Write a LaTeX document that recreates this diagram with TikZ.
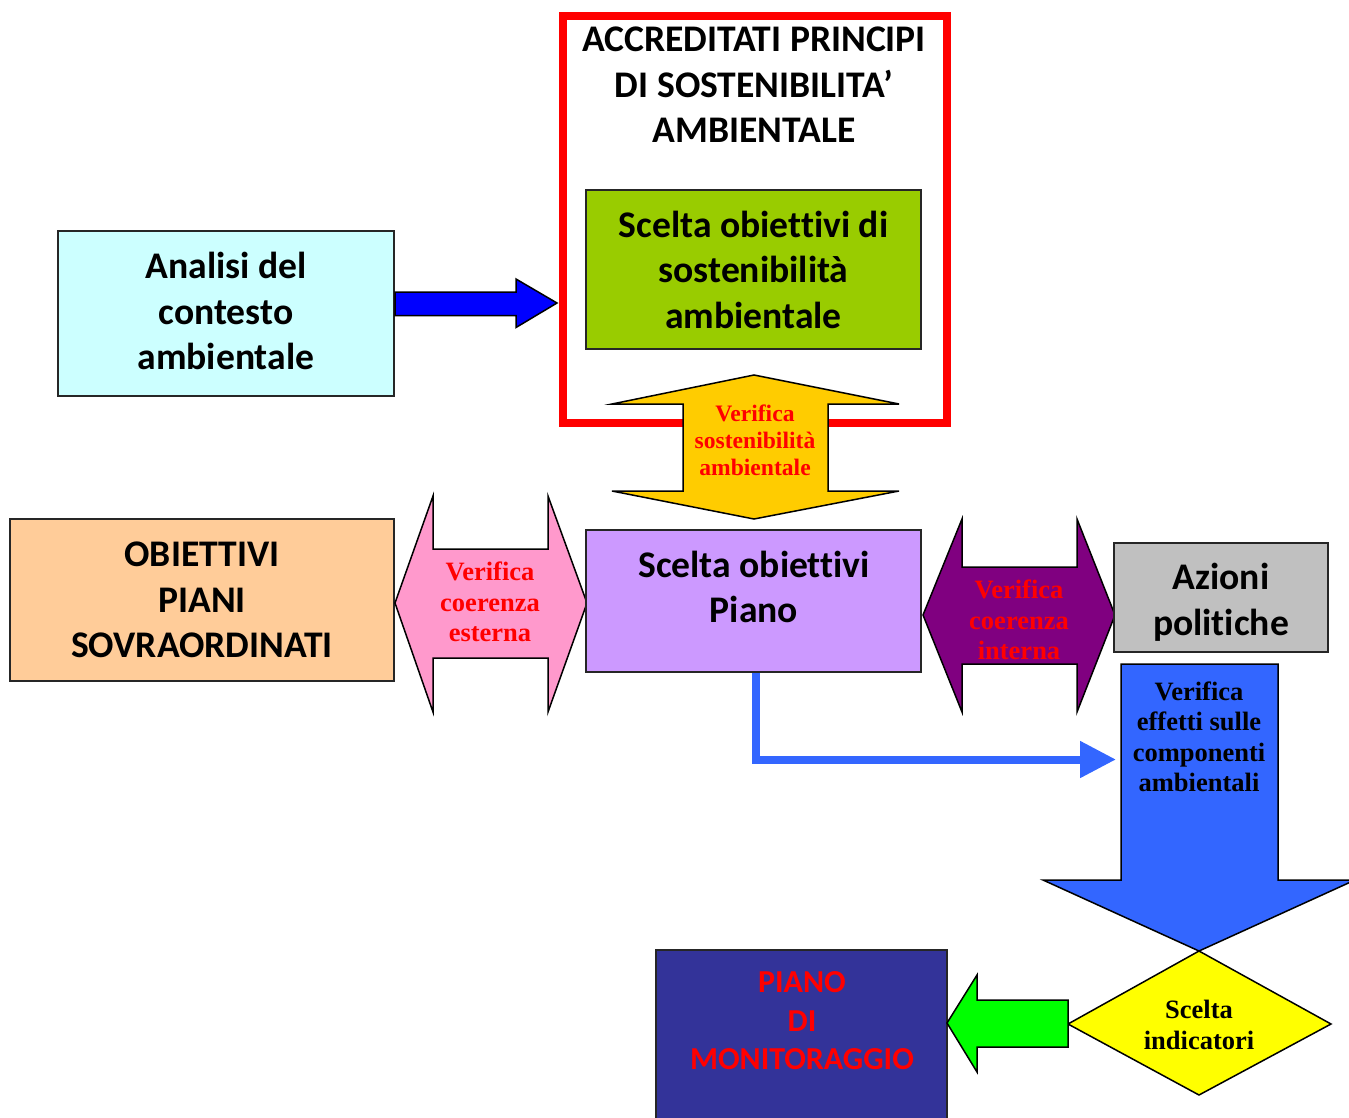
\documentclass[tikz,border=0pt]{standalone}
\usepackage{fontspec}
\setmainfont{Liberation Serif}
\newfontfamily\calfont[Ligatures=NoCommon]{Carlito}
\usetikzlibrary{arrows.meta,calc}
\definecolor{cyanbg}{HTML}{CCFFFF}
\definecolor{greenbg}{HTML}{99CC00}
\definecolor{orangebg}{HTML}{FFCC99}
\definecolor{lilacbg}{HTML}{CC99FF}
\definecolor{greybg}{HTML}{C0C0C0}
\definecolor{pinkbg}{HTML}{FF99CC}
\definecolor{purplebg}{HTML}{800080}
\definecolor{goldbg}{HTML}{FFCC00}
\definecolor{skyblue}{HTML}{3366FF}
\definecolor{navybg}{HTML}{333399}
\definecolor{limebg}{HTML}{00FF00}
\definecolor{yellowbg}{HTML}{FFFF00}
\definecolor{purebluebg}{HTML}{0000FF}
\newcommand\calbig{\calfont\bfseries\fontsize{37.6}{45.5}\selectfont}
\newcommand\calmid{\calfont\bfseries\fontsize{32}{38.5}\selectfont}
\newcommand\serbig{\bfseries\fontsize{26.5}{30.5}\selectfont}
\newcommand\sersmall{\bfseries\fontsize{23.6}{27}\selectfont}
\begin{document}
\begin{tikzpicture}[x=1pt,y=-1pt,
  box/.style={draw=black!85, line width=1.2pt, inner sep=0pt, align=center, font=\calbig},
  blk/.style={draw=black, line width=1.5pt, line join=miter},
  ser/.style={align=center, font=\serbig, inner sep=0pt},
  txt/.style={align=center, font=\calbig, inner sep=0pt}]
\useasboundingbox (0,0) rectangle (1349,1117);

% analisi
\node[box, fill=cyanbg, minimum width=336pt, minimum height=165pt] (analisi) at (226,313.5) {};
\node[txt] (analisitxt) at (226,311) {Analisi del\\contesto\\ambientale};

% red frame
\node[draw=red, line width=7.5pt, inner sep=0pt, minimum width=384pt, minimum height=407pt] (frame) at (755,219.5) {};
\node[txt] (title) at (754,85) {ACCREDITATI PRINCIPI\\DI SOSTENIBILITA’\\AMBIENTALE};
\node[box, fill=greenbg, minimum width=335pt, minimum height=159pt] (sost) at (753.5,269.5) {Scelta obiettivi di\\sostenibilità\\ambientale};

% blue arrow analisi -> frame
\draw[blk, fill=purebluebg] (395,292) -- (516,292) -- (516,279) -- (557,303) -- (516,327.5) -- (516,315.5) -- (395,315.5) -- cycle;

% yellow double arrow
\draw[blk, fill=goldbg] (754,375) -- (899,404) -- (828,404) -- (828,491) -- (899,491) -- (754,519) -- (612,491) -- (683,491) -- (683,404) -- (612,404) -- cycle;
\node[ser, font=\sersmall, text=red] (vsost) at (755,440) {Verifica\\sostenibilità\\ambientale};

% obiettivi piani
\node[box, fill=orangebg, minimum width=384pt, minimum height=162pt] (obiettivi) at (202,600) {OBIETTIVI\\PIANI\\SOVRAORDINATI};

% pink double arrow
\draw[blk, fill=pinkbg] (395,603) -- (433,496) -- (433,549) -- (548,549) -- (548,496) -- (587,603) -- (548,712) -- (548,658) -- (433,658) -- (433,712) -- cycle;
\node[ser, text=red] (vest) at (490,602) {Verifica\\coerenza\\esterna};

% scelta obiettivi piano
\node[box, fill=lilacbg, minimum width=335pt, minimum height=142pt] (piano) at (753.5,601) {};
\node[txt] (pianotxt) at (754,587) {Scelta obiettivi\\Piano};

% purple double arrow
\draw[blk, fill=purplebg] (923,615) -- (962,519) -- (962,567) -- (1077,567) -- (1077,519) -- (1115,615) -- (1077,712) -- (1077,664) -- (962,664) -- (962,712) -- cycle;
\node[ser, text=red] (vint) at (1019,620) {Verifica\\coerenza\\interna};

% azioni politiche
\node[box, fill=greybg, minimum width=214pt, minimum height=109pt] (azioni) at (1221,597.5) {};
\node[txt] (azionitxt) at (1221,602.5) {Azioni\\politiche};

% big blue down arrow
\draw[blk, fill=skyblue] (1121,664) -- (1278,664) -- (1278,880) -- (1355,880) -- (1199,951) -- (1043,880) -- (1121,880) -- cycle;
\coordinate (bigwest) at (1116,759.5);
\node[ser] (veff) at (1199,737) {Verifica\\effetti sulle\\componenti\\ambientali};

% elbow connector
\draw[skyblue, line width=8pt, -{Triangle[length=36pt,width=35pt]}] (piano.south -| 756,0) |- (bigwest);

% diamond
\draw[blk, fill=yellowbg] (1199,951) -- (1331,1024) -- (1199,1095) -- (1068,1024) -- cycle;
\node[ser] (indic) at (1199,1025) {Scelta\\indicatori};

% piano di monitoraggio
\node[box, fill=navybg, minimum width=291pt, minimum height=175pt] (monit) at (801.5,1037.5) {};
\node[txt, font=\calmid, text=red] (monittxt) at (802,1021) {PIANO\\DI\\MONITORAGGIO};

% green arrow
\draw[blk, fill=limebg] (947,1023) -- (977,975) -- (977,1000) -- (1068,1000) -- (1068,1047) -- (977,1047) -- (977,1072) -- cycle;
\end{tikzpicture}
\end{document}
